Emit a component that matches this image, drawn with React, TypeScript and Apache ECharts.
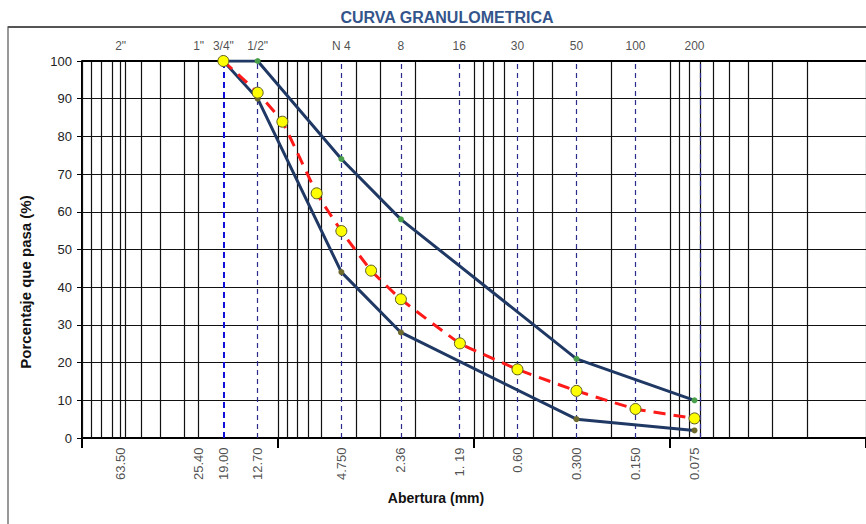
import React, { useEffect, useRef } from "react";
import * as echarts from "echarts";

// Sieve sizes (mm) marked on the chart
const sieveSizes = [63.5, 25.4, 19.0, 12.7, 4.75, 2.36, 1.19, 0.6, 0.3, 0.15, 0.075];
const sieveNames = ['2"', '1"', '3/4"', '1/2"', "N 4", "8", "16", "30", "50", "100", "200"];
const sieveSizeLabels = ["63.50", "25.40", "19.00", "12.70", "4.750", "2.36", "1. 19", "0.60", "0.300", "0.150", "0.075"];
const dashedSieves = [19.0, 12.7, 4.75, 2.36, 1.19, 0.6, 0.3, 0.15, 0.075];
const solidSieves = [63.5, 25.4];

// Specification limits
const limitSizes = [19.0, 12.7, 4.75, 2.36, 0.3, 0.075];
const upperPass = [100, 100, 74, 58, 21, 10];
const lowerPass = [100, 90, 44, 28, 5, 2];

// Sample curve
const sampleSizes = [19.0, 12.7, 9.5, 6.35, 4.75, 3.35, 2.36, 1.18, 0.6, 0.3, 0.15, 0.075];
const samplePass = [100, 91.6, 83.9, 64.9, 54.9, 44.4, 36.8, 25.1, 18.2, 12.5, 7.7, 5.2];

// Log grid lines (1..9 x 10^k), skipping those covered by dashed sieve lines
const gridMultipliers = [1, 2, 3, 4, 5, 6, 7, 8, 9];
const gridDecades = [0.01, 0.1, 1, 10];
const skipGrid = [20, 5, 0.6, 0.3];

export default function App() {
  const ref = useRef<HTMLDivElement>(null);
  useEffect(() => {
    if (!ref.current) return;
    const chart = echarts.init(ref.current, null, { renderer: "svg" });
    const gridVals: number[] = [100];
    gridDecades.forEach((d) =>
      gridMultipliers.forEach((m) => {
        const v = +(m * d).toPrecision(3);
        if (!skipGrid.includes(v)) gridVals.push(v);
      })
    );
    const font = "'Liberation Sans', Arial, sans-serif";
    const markLineData: any[] = [
      ...gridVals.map((v) => ({ xAxis: v, lineStyle: { color: "#111", width: 1.2, type: "solid", opacity: 1 } })),
      ...solidSieves.map((v) => ({ xAxis: v, lineStyle: { color: "#111", width: 1.2, type: "solid", opacity: 1 } })),
      ...dashedSieves.map((v) =>
        v === 19
          ? { xAxis: v, lineStyle: { color: "#1010d8", width: 2, type: [6, 4], opacity: 1 } }
          : { xAxis: v, lineStyle: { color: "#2c2c8c", width: 1.2, type: [5, 4], opacity: 1 } }
      ),
      { yAxis: 100, lineStyle: { color: "#000", width: 2, type: "solid", opacity: 1 } },
    ];
    chart.setOption({
      animation: false,
      backgroundColor: "#fff",
      grid: { left: 82, right: 0, top: 61, bottom: 86 },
      graphic: [
        {
          type: "rect",
          shape: { x: 8, y: 27, width: 1000, height: 700 },
          style: { fill: "none", stroke: "#777", lineWidth: 1.5 },
          silent: true,
        },
        {
          type: "line",
          shape: { x1: 8, y1: 27, x2: 866, y2: 27 },
          style: { stroke: "#555", lineWidth: 2 },
          silent: true,
        },
        {
          type: "text",
          x: 447,
          y: 17,
          style: {
            text: "CURVA GRANULOMETRICA",
            font: "bold 16px " + font,
            fill: "#34558b",
            align: "center",
            verticalAlign: "middle",
          },
        },
        {
          type: "text",
          x: 436,
          y: 498,
          style: {
            text: "Abertura (mm)",
            font: "bold 14px " + font,
            fill: "#111",
            align: "center",
            verticalAlign: "middle",
          },
        },
        {
          type: "text",
          x: 25,
          y: 282,
          rotation: Math.PI / 2,
          style: {
            text: "Porcentaje que pasa (%)",
            font: "bold 15px " + font,
            fill: "#111",
            align: "center",
            verticalAlign: "middle",
          },
        },
      ],
      xAxis: {
        type: "log",
        logBase: 10,
        min: 0.01,
        max: 100,
        inverse: true,
        axisLine: { show: true, onZero: false, lineStyle: { color: "#000", width: 2 } },
        axisTick: { show: true, length: 10, lineStyle: { color: "#000", width: 2 } },
        axisLabel: { show: false },
        splitLine: { show: false },
        minorTick: { show: false },
      },
      yAxis: {
        type: "value",
        min: 0,
        max: 100,
        interval: 10,
        axisLine: { show: true, lineStyle: { color: "#000", width: 2 } },
        axisTick: { show: true, length: 5, lineStyle: { color: "#000", width: 1 } },
        axisLabel: { fontSize: 13, color: "#222", margin: 10, fontFamily: font },
        splitLine: { show: true, lineStyle: { color: "#111", width: 1.2 } },
      },
      series: [
        {
          type: "scatter",
          name: "top",
          silent: true,
          symbolSize: 1,
          itemStyle: { color: "rgba(0,0,0,0)" },
          data: sieveSizes.map((s, i) => ({
            value: [s, 100],
            label: { formatter: sieveNames[i] },
          })),
          label: {
            show: true,
            position: "top",
            distance: 9,
            fontSize: 12,
            color: "#222",
            fontFamily: font,
          },
          markLine: {
            silent: true,
            symbol: "none",
            label: { show: false },
            data: markLineData,
            z: 1,
          },
          z: 1,
        },
        {
          type: "scatter",
          name: "bottom",
          silent: true,
          symbolSize: 1,
          itemStyle: { color: "rgba(0,0,0,0)" },
          data: sieveSizes.map((s, i) => ({
            value: [s, 0],
            label: { formatter: sieveSizeLabels[i] },
          })),
          label: {
            show: true,
            position: "bottom",
            distance: 9,
            rotate: 90,
            align: "right",
            verticalAlign: "middle",
            fontSize: 13,
            color: "#222",
            fontFamily: font,
          },
        },
        {
          type: "line",
          name: "Límite inferior",
          data: limitSizes.map((s, i) => [s, lowerPass[i]]),
          smooth: false,
          lineStyle: { color: "#1f3864", width: 3, join: "round" },
          symbol: "circle",
          symbolSize: 6,
          itemStyle: { color: "#6e6a2e" },
          z: 3,
        },
        {
          type: "line",
          name: "Límite superior",
          data: limitSizes.map((s, i) => [s, upperPass[i]]),
          smooth: false,
          lineStyle: { color: "#1f3864", width: 3, join: "round" },
          symbol: "circle",
          symbolSize: 6,
          itemStyle: { color: "#4aa04a" },
          z: 3,
        },
        {
          type: "line",
          name: "Muestra",
          data: sampleSizes.map((s, i) => [s, samplePass[i]]),
          smooth: 0.1,
          lineStyle: { color: "#ff1a1a", width: 3, type: [12, 8] },
          symbol: "circle",
          symbolSize: 11,
          itemStyle: { color: "#ffff00", borderColor: "#5a5a20", borderWidth: 1 },
          z: 4,
        },
      ],
    });
    return () => chart.dispose();
  }, []);
  return (
    <div
      ref={ref}
      style={{ position: "absolute", left: 0, top: 0, width: 866, height: 524, background: "#fff" }}
    />
  );
}
